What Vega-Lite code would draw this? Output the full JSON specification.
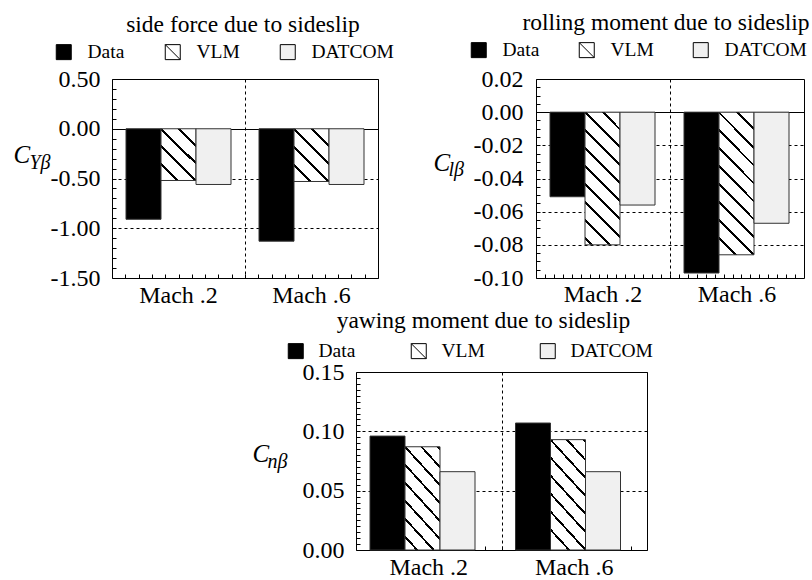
{
  "$schema": "https://vega.github.io/schema/vega-lite/v6.json",
  "background": "#ffffff",
  "padding": {"left": 12, "top": 10, "right": 0, "bottom": 0},
  "spacing": 0,
  "resolve": {"scale": {"fill": "independent"}, "legend": {"fill": "independent"}},
  "config": {
    "font": "Liberation Serif",
    "view": {"stroke": "#000000", "strokeWidth": 1},
    "style": {"guide-label": {"font": "Liberation Serif"}, "guide-title": {"font": "Liberation Serif"}},
    "axis": {"labelFont": "Liberation Serif", "labelColor": "#000000", "titleFont": "Liberation Serif", "titleColor": "#000000", "titleFontWeight": "normal", "labelOverlap": false},
    "legend": {"labelFont": "Liberation Serif", "labelColor": "#000000", "labelFontSize": 19.5, "symbolType": "square", "symbolSize": 225, "symbolStrokeColor": "#000000", "symbolStrokeWidth": 1, "direction": "horizontal", "orient": "none"},
    "title": {"font": "Liberation Serif", "fontSize": 23.5, "fontWeight": "normal", "color": "#000000", "frame": "group", "anchor": "middle"}
  },
  "vconcat": [
    {
      "hconcat": [
        {
          "width": 266, "height": 199,
          "title": {"text": "side force due to sideslip", "dx": -2, "offset": 6},
          "data": {"values": [
            {"mach": "Mach .2", "model": "Data", "value": -0.91},
            {"mach": "Mach .2", "model": "VLM", "value": -0.52},
            {"mach": "Mach .2", "model": "DATCOM", "value": -0.56},
            {"mach": "Mach .6", "model": "Data", "value": -1.13},
            {"mach": "Mach .6", "model": "VLM", "value": -0.53},
            {"mach": "Mach .6", "model": "DATCOM", "value": -0.56}
          ]},
          "layer": [
            {
              "mark": {"type": "bar", "stroke": "#333333", "strokeWidth": 1},
              "encoding": {
                "x": {"field": "mach", "type": "nominal", "sort": ["Mach .2", "Mach .6"], "scale": {"paddingInner": 0, "paddingOuter": 0},
                  "axis": {"orient": "bottom", "title": null, "ticks": false, "domain": false, "grid": false, "labelAngle": 0, "labelFont": "Liberation Serif", "labelFontSize": 24, "labelPadding": 5}},
                "xOffset": {"field": "model", "type": "nominal", "sort": ["Data", "VLM", "DATCOM"], "scale": {"paddingInner": 0, "paddingOuter": 0.4}},
                "y": {"field": "value", "type": "quantitative", "scale": {"domain": [-1.5, 0.5], "nice": false, "zero": false},
                  "axis": {"orient": "left", "values": [-1.5, -1, -0.5, 0, 0.5], "labelExpr": "(datum.value < 0 ? '-' : '') + format(abs(datum.value), '.2f')", "ticks": false, "domain": false, "grid": true, "gridColor": "#000000", "gridDash": {"condition": {"test": "datum.value === 0", "value": []}, "value": [3, 3]}, "labelFont": "Liberation Serif", "labelFontSize": 24, "labelPadding": 12, "title": "C", "titleFont": "Liberation Serif", "titleFontSize": 25, "titleFontStyle": "italic", "titleAngle": 0, "titleAlign": "left", "titleBaseline": "alphabetic", "titleX": -99, "titleY": 83}},
                "fill": {"field": "model", "type": "nominal", "scale": {"domain": ["Data", "VLM", "DATCOM"], "range": ["#000000", "#ffffff", "#f0f0f0"]},
                  "legend": {"legendX": -58, "legendY": -37, "title": null, "labelOffset": 14, "columnPadding": 38,
                    "encode": {"symbols": {"update": {"stroke": {"value": "#000000"}, "strokeWidth": {"value": 1}, "shape": [{"test": "datum.value === 'VLM'", "value": "M-1,-1H1V1H-1ZM-1,-1L1,1"}, {"value": "square"}]}}}},
                  "condition": {"test": "datum.model === 'VLM'", "value": {"gradient": "linear", "x1": 0, "y1": 1, "x2": 0.77, "y2": -0.15, "stops": [
                    {"offset": 0, "color": "#ffffff"},
                    {"offset": 0.1725, "color": "#ffffff"}, {"offset": 0.1725, "color": "#000000"}, {"offset": 0.2075, "color": "#000000"}, {"offset": 0.2075, "color": "#ffffff"},
                    {"offset": 0.3775, "color": "#ffffff"}, {"offset": 0.3775, "color": "#000000"}, {"offset": 0.4125, "color": "#000000"}, {"offset": 0.4125, "color": "#ffffff"},
                    {"offset": 0.5825, "color": "#ffffff"}, {"offset": 0.5825, "color": "#000000"}, {"offset": 0.6175, "color": "#000000"}, {"offset": 0.6175, "color": "#ffffff"},
                    {"offset": 0.7875, "color": "#ffffff"}, {"offset": 0.7875, "color": "#000000"}, {"offset": 0.8225, "color": "#000000"}, {"offset": 0.8225, "color": "#ffffff"},
                    {"offset": 1, "color": "#ffffff"}]}}}
              }
            },
            {
              "mark": {"type": "point", "opacity": 0},
              "encoding": {
                "x": {"datum": 0, "type": "quantitative", "scale": {"domain": [0, 20], "nice": false},
                  "axis": {"orient": "bottom", "title": null, "labels": false, "domain": false, "ticks": true, "tickSize": -4, "tickColor": "#000000", "values": [1,2,3,4,5,6,7,8,9,10,11,12,13,14,15,16,17,18,19], "grid": true, "gridColor": "#000000", "gridDash": [3, 3], "gridOpacity": {"condition": {"test": "datum.value === 10", "value": 1}, "value": 0}}},
                "y": {"field": "value", "type": "quantitative", "scale": {"domain": [-1.5, 0.5], "nice": false, "zero": false},
                  "axis": {"orient": "left", "values": [-1.4,-1.3,-1.2,-1.1,-1,-0.9,-0.8,-0.7,-0.6,-0.5,-0.4,-0.3,-0.2,-0.1,0,0.1,0.2,0.3,0.4], "labels": false, "domain": false, "grid": false, "ticks": true, "tickSize": -4, "tickColor": "#000000", "title": "Yβ", "titleFont": "Liberation Serif", "titleFontSize": 20, "titleFontStyle": "italic", "titleAngle": 0, "titleAlign": "left", "titleBaseline": "alphabetic", "titleX": -83, "titleY": 89}}
              }
            }
          ],
          "resolve": {"scale": {"x": "independent"}, "axis": {"x": "independent", "y": "independent"}}
        },
        {
          "width": 268, "height": 199,
          "title": {"text": "rolling moment due to sideslip", "dx": -4, "offset": 6},
          "data": {"values": [
            {"mach": "Mach .2", "model": "Data", "value": -0.051},
            {"mach": "Mach .2", "model": "VLM", "value": -0.080},
            {"mach": "Mach .2", "model": "DATCOM", "value": -0.056},
            {"mach": "Mach .6", "model": "Data", "value": -0.097},
            {"mach": "Mach .6", "model": "VLM", "value": -0.086},
            {"mach": "Mach .6", "model": "DATCOM", "value": -0.067}
          ]},
          "layer": [
            {
              "mark": {"type": "bar", "stroke": "#333333", "strokeWidth": 1},
              "encoding": {
                "x": {"field": "mach", "type": "nominal", "sort": ["Mach .2", "Mach .6"], "scale": {"paddingInner": 0, "paddingOuter": 0},
                  "axis": {"orient": "bottom", "title": null, "ticks": false, "domain": false, "grid": false, "labelAngle": 0, "labelFont": "Liberation Serif", "labelFontSize": 24, "labelPadding": 4}},
                "xOffset": {"field": "model", "type": "nominal", "sort": ["Data", "VLM", "DATCOM"], "scale": {"paddingInner": 0, "paddingOuter": 0.4}},
                "y": {"field": "value", "type": "quantitative", "scale": {"domain": [-0.1, 0.02], "nice": false, "zero": false},
                  "axis": {"orient": "left", "values": [-0.1, -0.08, -0.06, -0.04, -0.02, 0, 0.02], "labelExpr": "(datum.value < 0 ? '-' : '') + format(abs(datum.value), '.2f')", "ticks": false, "domain": false, "grid": true, "gridColor": "#000000", "gridDash": {"condition": {"test": "datum.value === 0", "value": []}, "value": [3, 3]}, "labelFont": "Liberation Serif", "labelFontSize": 24, "labelPadding": 13, "title": "C", "titleFont": "Liberation Serif", "titleFontSize": 25, "titleFontStyle": "italic", "titleAngle": 0, "titleAlign": "left", "titleBaseline": "alphabetic", "titleX": -103, "titleY": 91}},
                "fill": {"field": "model", "type": "nominal", "scale": {"domain": ["Data", "VLM", "DATCOM"], "range": ["#000000", "#ffffff", "#f0f0f0"]},
                  "legend": {"legendX": -67, "legendY": -39, "title": null, "labelOffset": 14, "columnPadding": 37,
                    "encode": {"symbols": {"update": {"stroke": {"value": "#000000"}, "strokeWidth": {"value": 1}, "shape": [{"test": "datum.value === 'VLM'", "value": "M-1,-1H1V1H-1ZM-1,-1L1,1"}, {"value": "square"}]}}}},
                  "condition": [
                    {"test": "datum.model === 'VLM' && datum.mach === 'Mach .2'", "value": {"gradient": "linear", "x1": 0, "y1": 1, "x2": 0.3145, "y2": -0.1824, "stops": [
                      {"offset": 0, "color": "#ffffff"},
                      {"offset": 0.0325, "color": "#ffffff"}, {"offset": 0.0325, "color": "#000000"}, {"offset": 0.0495, "color": "#000000"}, {"offset": 0.0495, "color": "#ffffff"},
                      {"offset": 0.1395, "color": "#ffffff"}, {"offset": 0.1395, "color": "#000000"}, {"offset": 0.1565, "color": "#000000"}, {"offset": 0.1565, "color": "#ffffff"},
                      {"offset": 0.2465, "color": "#ffffff"}, {"offset": 0.2465, "color": "#000000"}, {"offset": 0.2635, "color": "#000000"}, {"offset": 0.2635, "color": "#ffffff"},
                      {"offset": 0.3535, "color": "#ffffff"}, {"offset": 0.3535, "color": "#000000"}, {"offset": 0.3705, "color": "#000000"}, {"offset": 0.3705, "color": "#ffffff"},
                      {"offset": 0.4605, "color": "#ffffff"}, {"offset": 0.4605, "color": "#000000"}, {"offset": 0.4775, "color": "#000000"}, {"offset": 0.4775, "color": "#ffffff"},
                      {"offset": 0.5675, "color": "#ffffff"}, {"offset": 0.5675, "color": "#000000"}, {"offset": 0.5845, "color": "#000000"}, {"offset": 0.5845, "color": "#ffffff"},
                      {"offset": 0.6745, "color": "#ffffff"}, {"offset": 0.6745, "color": "#000000"}, {"offset": 0.6915, "color": "#000000"}, {"offset": 0.6915, "color": "#ffffff"},
                      {"offset": 0.7815, "color": "#ffffff"}, {"offset": 0.7815, "color": "#000000"}, {"offset": 0.7985, "color": "#000000"}, {"offset": 0.7985, "color": "#ffffff"},
                      {"offset": 0.8885, "color": "#ffffff"}, {"offset": 0.8885, "color": "#000000"}, {"offset": 0.9055, "color": "#000000"}, {"offset": 0.9055, "color": "#ffffff"},
                      {"offset": 1, "color": "#ffffff"}]}},
                    {"test": "datum.model === 'VLM' && datum.mach === 'Mach .6'", "value": {"gradient": "linear", "x1": 0, "y1": 1, "x2": 0.291, "y2": -0.1755, "stops": [
                      {"offset": 0, "color": "#ffffff"},
                      {"offset": 0.086, "color": "#ffffff"}, {"offset": 0.086, "color": "#000000"}, {"offset": 0.102, "color": "#000000"}, {"offset": 0.102, "color": "#ffffff"},
                      {"offset": 0.187, "color": "#ffffff"}, {"offset": 0.187, "color": "#000000"}, {"offset": 0.203, "color": "#000000"}, {"offset": 0.203, "color": "#ffffff"},
                      {"offset": 0.288, "color": "#ffffff"}, {"offset": 0.288, "color": "#000000"}, {"offset": 0.304, "color": "#000000"}, {"offset": 0.304, "color": "#ffffff"},
                      {"offset": 0.389, "color": "#ffffff"}, {"offset": 0.389, "color": "#000000"}, {"offset": 0.405, "color": "#000000"}, {"offset": 0.405, "color": "#ffffff"},
                      {"offset": 0.49, "color": "#ffffff"}, {"offset": 0.49, "color": "#000000"}, {"offset": 0.506, "color": "#000000"}, {"offset": 0.506, "color": "#ffffff"},
                      {"offset": 0.591, "color": "#ffffff"}, {"offset": 0.591, "color": "#000000"}, {"offset": 0.607, "color": "#000000"}, {"offset": 0.607, "color": "#ffffff"},
                      {"offset": 0.692, "color": "#ffffff"}, {"offset": 0.692, "color": "#000000"}, {"offset": 0.708, "color": "#000000"}, {"offset": 0.708, "color": "#ffffff"},
                      {"offset": 0.792, "color": "#ffffff"}, {"offset": 0.792, "color": "#000000"}, {"offset": 0.808, "color": "#000000"}, {"offset": 0.808, "color": "#ffffff"},
                      {"offset": 0.895, "color": "#ffffff"}, {"offset": 0.895, "color": "#000000"}, {"offset": 0.911, "color": "#000000"}, {"offset": 0.911, "color": "#ffffff"},
                      {"offset": 1, "color": "#ffffff"}]}}
                  ]}
              }
            },
            {
              "mark": {"type": "point", "opacity": 0},
              "encoding": {
                "x": {"datum": 0, "type": "quantitative", "scale": {"domain": [0, 30], "nice": false},
                  "axis": {"orient": "bottom", "title": null, "labels": false, "domain": false, "ticks": true, "tickSize": -4, "tickColor": "#000000", "values": [1,2,3,4,5,6,7,8,9,10,11,12,13,14,15,16,17,18,19,20,21,22,23,24,25,26,27,28,29], "grid": true, "gridColor": "#000000", "gridDash": [3, 3], "gridOpacity": {"condition": {"test": "datum.value === 15", "value": 1}, "value": 0}}},
                "y": {"field": "value", "type": "quantitative", "scale": {"domain": [-0.1, 0.02], "nice": false, "zero": false},
                  "axis": {"orient": "left", "values": [-0.095,-0.09,-0.085,-0.08,-0.075,-0.07,-0.065,-0.06,-0.055,-0.05,-0.045,-0.04,-0.035,-0.03,-0.025,-0.02,-0.015,-0.01,-0.005,0,0.005,0.01,0.015], "labels": false, "domain": false, "grid": false, "ticks": true, "tickSize": -4, "tickColor": "#000000", "title": "lβ", "titleFont": "Liberation Serif", "titleFontSize": 20, "titleFontStyle": "italic", "titleAngle": 0, "titleAlign": "left", "titleBaseline": "alphabetic", "titleX": -88, "titleY": 96}}
              }
            }
          ],
          "resolve": {"scale": {"x": "independent"}, "axis": {"x": "independent", "y": "independent"}}
        }
      ],
      "spacing": 37,
      "resolve": {"scale": {"fill": "independent"}, "legend": {"fill": "independent"}}
    },
    {
      "hconcat": [
        {
          "width": 139, "height": 10,
          "view": {"stroke": null},
          "data": {"values": [{}]},
          "mark": {"type": "text", "text": ""},
          "encoding": {}
        },
        {
          "width": 291, "height": 178,
          "title": {"text": "yawing moment due to sideslip", "dx": -18, "offset": 9},
          "data": {"values": [
            {"mach": "Mach .2", "model": "Data", "value": 0.096},
            {"mach": "Mach .2", "model": "VLM", "value": 0.087},
            {"mach": "Mach .2", "model": "DATCOM", "value": 0.066},
            {"mach": "Mach .6", "model": "Data", "value": 0.107},
            {"mach": "Mach .6", "model": "VLM", "value": 0.093},
            {"mach": "Mach .6", "model": "DATCOM", "value": 0.066}
          ]},
          "layer": [
            {
              "mark": {"type": "bar", "stroke": "#333333", "strokeWidth": 1},
              "encoding": {
                "x": {"field": "mach", "type": "nominal", "sort": ["Mach .2", "Mach .6"], "scale": {"paddingInner": 0, "paddingOuter": 0},
                  "axis": {"orient": "bottom", "title": null, "ticks": false, "domain": false, "grid": false, "labelAngle": 0, "labelFont": "Liberation Serif", "labelFontSize": 24, "labelPadding": 5}},
                "xOffset": {"field": "model", "type": "nominal", "sort": ["Data", "VLM", "DATCOM"], "scale": {"paddingInner": 0, "paddingOuter": 0.4}},
                "y": {"field": "value", "type": "quantitative", "scale": {"domain": [0, 0.15], "nice": false, "zero": false},
                  "axis": {"orient": "left", "values": [0, 0.05, 0.1, 0.15], "labelExpr": "(datum.value < 0 ? '-' : '') + format(abs(datum.value), '.2f')", "ticks": false, "domain": false, "grid": true, "gridColor": "#000000", "gridDash": [3, 3], "labelFont": "Liberation Serif", "labelFontSize": 24, "labelPadding": 12, "title": "C", "titleFont": "Liberation Serif", "titleFontSize": 25, "titleFontStyle": "italic", "titleAngle": 0, "titleAlign": "left", "titleBaseline": "alphabetic", "titleX": -104, "titleY": 89}},
                "fill": {"field": "model", "type": "nominal", "scale": {"domain": ["Data", "VLM", "DATCOM"], "range": ["#000000", "#ffffff", "#f0f0f0"]},
                  "legend": {"legendX": -70, "legendY": -31, "title": null, "labelOffset": 13, "columnPadding": 53,
                    "encode": {"symbols": {"update": {"stroke": {"value": "#000000"}, "strokeWidth": {"value": 1}, "shape": [{"test": "datum.value === 'VLM'", "value": "M-1,-1H1V1H-1ZM-1,-1L1,1"}, {"value": "square"}]}}}},
                  "condition": [
                    {"test": "datum.model === 'VLM' && datum.mach === 'Mach .2'", "value": {"gradient": "linear", "x1": 0, "y1": 1, "x2": 0.4473, "y2": -0.2052, "stops": [
                      {"offset": 0, "color": "#ffffff"},
                      {"offset": 0.084, "color": "#ffffff"}, {"offset": 0.084, "color": "#000000"}, {"offset": 0.104, "color": "#000000"}, {"offset": 0.104, "color": "#ffffff"},
                      {"offset": 0.211, "color": "#ffffff"}, {"offset": 0.211, "color": "#000000"}, {"offset": 0.231, "color": "#000000"}, {"offset": 0.231, "color": "#ffffff"},
                      {"offset": 0.338, "color": "#ffffff"}, {"offset": 0.338, "color": "#000000"}, {"offset": 0.358, "color": "#000000"}, {"offset": 0.358, "color": "#ffffff"},
                      {"offset": 0.465, "color": "#ffffff"}, {"offset": 0.465, "color": "#000000"}, {"offset": 0.485, "color": "#000000"}, {"offset": 0.485, "color": "#ffffff"},
                      {"offset": 0.592, "color": "#ffffff"}, {"offset": 0.592, "color": "#000000"}, {"offset": 0.612, "color": "#000000"}, {"offset": 0.612, "color": "#ffffff"},
                      {"offset": 0.719, "color": "#ffffff"}, {"offset": 0.719, "color": "#000000"}, {"offset": 0.739, "color": "#000000"}, {"offset": 0.739, "color": "#ffffff"},
                      {"offset": 0.846, "color": "#ffffff"}, {"offset": 0.846, "color": "#000000"}, {"offset": 0.866, "color": "#000000"}, {"offset": 0.866, "color": "#ffffff"},
                      {"offset": 0.973, "color": "#ffffff"}, {"offset": 0.973, "color": "#000000"}, {"offset": 0.993, "color": "#000000"}, {"offset": 0.993, "color": "#ffffff"},
                      {"offset": 1, "color": "#ffffff"}]}},
                    {"test": "datum.model === 'VLM' && datum.mach === 'Mach .6'", "value": {"gradient": "linear", "x1": 0, "y1": 1, "x2": 0.4171, "y2": -0.2022, "stops": [
                      {"offset": 0, "color": "#ffffff"},
                      {"offset": 0.1275, "color": "#ffffff"}, {"offset": 0.1275, "color": "#000000"}, {"offset": 0.1465, "color": "#000000"}, {"offset": 0.1465, "color": "#ffffff"},
                      {"offset": 0.2485, "color": "#ffffff"}, {"offset": 0.2485, "color": "#000000"}, {"offset": 0.2675, "color": "#000000"}, {"offset": 0.2675, "color": "#ffffff"},
                      {"offset": 0.3695, "color": "#ffffff"}, {"offset": 0.3695, "color": "#000000"}, {"offset": 0.3885, "color": "#000000"}, {"offset": 0.3885, "color": "#ffffff"},
                      {"offset": 0.4905, "color": "#ffffff"}, {"offset": 0.4905, "color": "#000000"}, {"offset": 0.5095, "color": "#000000"}, {"offset": 0.5095, "color": "#ffffff"},
                      {"offset": 0.6115, "color": "#ffffff"}, {"offset": 0.6115, "color": "#000000"}, {"offset": 0.6305, "color": "#000000"}, {"offset": 0.6305, "color": "#ffffff"},
                      {"offset": 0.7325, "color": "#ffffff"}, {"offset": 0.7325, "color": "#000000"}, {"offset": 0.7515, "color": "#000000"}, {"offset": 0.7515, "color": "#ffffff"},
                      {"offset": 0.8535, "color": "#ffffff"}, {"offset": 0.8535, "color": "#000000"}, {"offset": 0.8725, "color": "#000000"}, {"offset": 0.8725, "color": "#ffffff"},
                      {"offset": 0.9745, "color": "#ffffff"}, {"offset": 0.9745, "color": "#000000"}, {"offset": 0.9935, "color": "#000000"}, {"offset": 0.9935, "color": "#ffffff"},
                      {"offset": 1, "color": "#ffffff"}]}}
                  ]}
              }
            },
            {
              "mark": {"type": "point", "opacity": 0},
              "encoding": {
                "x": {"datum": 0, "type": "quantitative", "scale": {"domain": [0, 18], "nice": false},
                  "axis": {"orient": "bottom", "title": null, "labels": false, "domain": false, "ticks": true, "tickSize": -4, "tickColor": "#000000", "values": [1,2,3,4,5,6,7,8,9,10,11,12,13,14,15,16,17], "grid": true, "gridColor": "#000000", "gridDash": [3, 3], "gridOpacity": {"condition": {"test": "datum.value === 9", "value": 1}, "value": 0}}},
                "y": {"field": "value", "type": "quantitative", "scale": {"domain": [0, 0.15], "nice": false, "zero": false},
                  "axis": {"orient": "left", "values": [0.005,0.01,0.015,0.02,0.025,0.03,0.035,0.04,0.045,0.05,0.055,0.06,0.065,0.07,0.075,0.08,0.085,0.09,0.095,0.1,0.105,0.11,0.115,0.12,0.125,0.13,0.135,0.14,0.145], "labels": false, "domain": false, "grid": false, "ticks": true, "tickSize": -4, "tickColor": "#000000", "title": "nβ", "titleFont": "Liberation Serif", "titleFontSize": 20, "titleFontStyle": "italic", "titleAngle": 0, "titleAlign": "left", "titleBaseline": "alphabetic", "titleX": -89, "titleY": 95}}
              }
            }
          ],
          "resolve": {"scale": {"x": "independent"}, "axis": {"x": "independent", "y": "independent"}}
        }
      ],
      "spacing": 0,
      "resolve": {"scale": {"fill": "independent"}, "legend": {"fill": "independent"}}
    }
  ]
}
